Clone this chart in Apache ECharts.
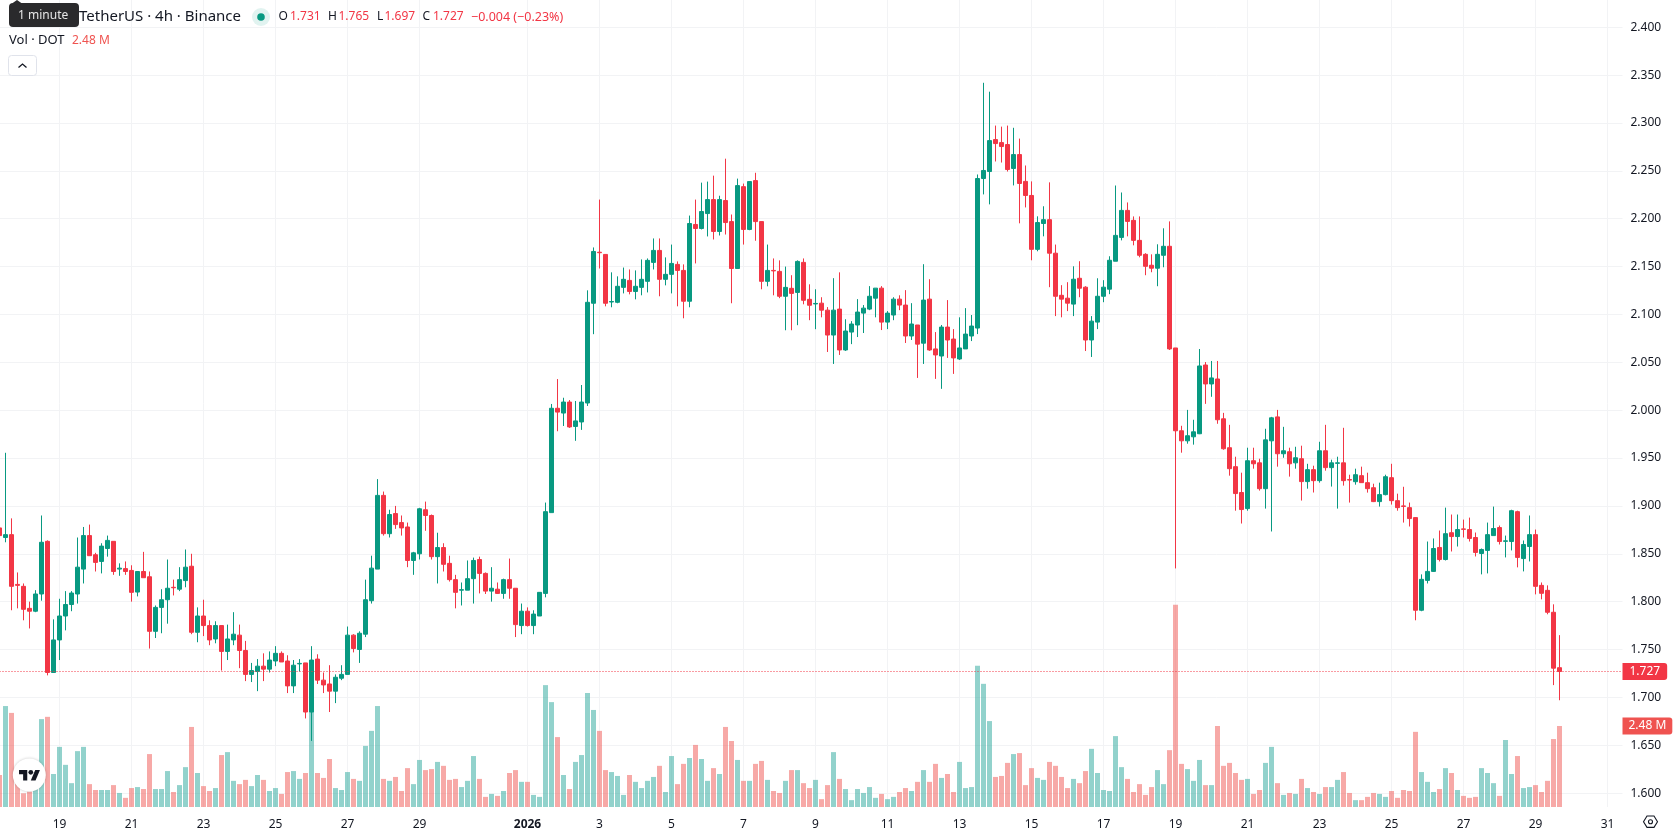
<!DOCTYPE html>
<html>
<head>
<meta charset="utf-8">
<title>DOT / TetherUS 4h</title>
<script src="https://cdn.jsdelivr.net/npm/echarts@6/dist/echarts.min.js"></script>
<style>
  html, body { margin: 0; padding: 0; background: #ffffff; overflow: hidden; }
  #chart { width: 1678px; height: 835px; }
</style>
</head>
<body>
<div id="chart"></div>
<script>
// 4h candles, oldest first, starting 2025-12-17 08:00
const opens = [
1.877,1.867,1.870,1.818,1.816,1.793,1.790,1.808,1.863,1.726,
1.760,1.785,1.797,1.808,1.834,1.869,1.849,1.842,1.8555,1.863,
1.834,1.8345,1.8326,1.810,1.8315,1.826,1.769,1.794,1.802,1.815,
1.813,1.822,1.837,1.768,1.785,1.775,1.761,1.775,1.748,1.760,
1.765,1.749,1.724,1.727,1.7326,1.7295,1.738,1.746,1.738,1.712,
1.735,1.736,1.6847,1.740,1.718,1.714,1.7065,1.720,1.724,1.765,
1.750,1.766,1.801,1.834,1.911,1.871,1.892,1.8826,1.878,1.843,
1.850,1.896,1.890,1.847,1.8565,1.840,1.823,1.812,1.812,1.824,
1.844,1.8295,1.811,1.813,1.8086,1.823,1.814,1.775,1.790,1.775,
1.785,1.8086,1.893,2.002,1.997,2.0085,1.983,1.9877,2.0075,2.1117,
2.165,2.1627,2.113,2.1127,2.1283,2.1356,2.124,2.1283,2.1346,2.1544,
2.1669,2.1367,2.1419,2.1523,2.146,2.1138,2.194,2.1898,2.2054,2.220,
2.1867,2.219,2.197,2.148,2.2335,2.1888,2.2398,2.197,2.1346,2.146,
2.145,2.119,2.1273,2.123,2.1544,2.1158,2.111,2.1118,2.1045,2.0785,
2.1056,2.0629,2.0816,2.089,2.1014,2.1056,2.117,2.1275,2.092,2.0994,
2.116,2.1098,2.0775,2.089,2.070,2.116,2.064,2.0566,2.0868,2.0743,
2.0535,2.064,2.0775,2.0858,2.242,2.2493,2.2827,2.2795,2.2775,2.2525,
2.267,2.239,2.2243,2.168,2.195,2.199,2.164,2.120,2.117,2.1108,
2.1378,2.1285,2.0733,2.092,2.119,2.1264,2.1556,2.1805,2.2087,2.1983,
2.1774,2.1628,2.1514,2.1483,2.1618,2.1712,2.065,1.9785,1.968,1.9722,
1.9754,2.0472,2.0274,2.0326,1.991,1.9608,1.941,1.914,1.8972,1.9472,
1.945,1.918,1.968,1.993,1.9545,1.9566,1.945,1.9493,1.9254,1.9379,
1.9264,1.9576,1.940,1.9445,1.945,1.9275,1.9253,1.9316,1.9243,1.919,
1.9045,1.9118,1.9295,1.9055,1.900,1.8982,1.8878,1.791,1.8222,1.8316,
1.8566,1.844,1.872,1.868,1.876,1.8753,1.867,1.8503,1.8535,1.869,
1.8774,1.863,1.8628,1.894,1.845,1.8576,1.870,1.817,1.8118,1.7889,
1.731];
const closes = [
1.869,1.870,1.816,1.817,1.792,1.790,1.808,1.862,1.726,1.760,
1.785,1.797,1.809,1.836,1.869,1.848,1.841,1.858,1.864,1.8315,
1.835,1.8315,1.8097,1.8315,1.825,1.769,1.794,1.802,1.814,1.8145,
1.823,1.836,1.768,1.785,1.775,1.760,1.775,1.748,1.761,1.766,
1.749,1.724,1.728,1.7326,1.7295,1.739,1.746,1.737,1.712,1.7336,
1.7355,1.6847,1.739,1.718,1.713,1.7065,1.721,1.724,1.765,1.751,
1.767,1.802,1.835,1.911,1.871,1.891,1.8805,1.877,1.843,1.851,
1.897,1.890,1.847,1.8565,1.839,1.823,1.8097,1.8125,1.824,1.843,
1.8295,1.811,1.814,1.8086,1.823,1.814,1.776,1.790,1.775,1.787,
1.8097,1.894,2.002,1.998,2.0085,1.9825,1.9888,2.0085,2.1127,2.1658,
2.1645,2.1117,2.1135,2.1294,2.1367,2.124,2.1294,2.1367,2.1565,2.1669,
2.1367,2.1419,2.1533,2.146,2.1138,2.195,2.1898,2.2075,2.220,2.1867,
2.220,2.196,2.148,2.2346,2.1888,2.2388,2.197,2.1346,2.146,2.1455,
2.119,2.1283,2.122,2.1554,2.1148,2.1096,2.1115,2.1045,2.0785,2.1045,
2.0629,2.0827,2.090,2.1025,2.1066,2.119,2.1275,2.092,2.1014,2.116,
2.1098,2.0775,2.090,2.069,2.115,2.0629,2.0577,2.0868,2.0733,2.0546,
2.065,2.0795,2.0879,2.242,2.2504,2.2816,2.2785,2.2754,2.2514,2.267,
2.2368,2.2243,2.168,2.196,2.199,2.164,2.119,2.116,2.1118,2.1368,
2.1274,2.0733,2.093,2.119,2.1285,2.1566,2.1826,2.2087,2.1972,2.1774,
2.1618,2.1503,2.1483,2.1628,2.1712,2.064,1.9785,1.968,1.9733,1.9774,
2.0462,2.0274,2.0337,1.990,1.9597,1.9389,1.9129,1.8962,1.9472,1.944,
1.918,1.969,1.992,1.9545,1.9576,1.944,1.9503,1.9254,1.9379,1.9264,
1.9576,1.940,1.945,1.945,1.9264,1.927,1.9326,1.9243,1.918,1.9045,
1.9118,1.9305,1.9055,1.8982,1.8995,1.8868,1.791,1.8233,1.8316,1.8555,
1.844,1.871,1.868,1.8753,1.8755,1.866,1.8514,1.8545,1.870,1.8764,
1.8628,1.8635,1.895,1.8462,1.8597,1.870,1.816,1.8087,1.7889,1.7305,
1.727];
const lows = [
1.866,1.862,1.791,1.793,1.7805,1.772,1.789,1.801,1.723,1.726,
1.739,1.770,1.790,1.798,1.819,1.848,1.8315,1.8295,1.847,1.828,
1.827,1.828,1.800,1.8055,1.825,1.751,1.762,1.767,1.777,1.8065,
1.811,1.815,1.766,1.7576,1.764,1.7545,1.7565,1.728,1.739,1.7545,
1.7305,1.717,1.716,1.7065,1.717,1.726,1.7326,1.737,1.7045,1.7045,
1.727,1.678,1.6545,1.714,1.7045,1.6847,1.694,1.718,1.724,1.747,
1.736,1.763,1.798,1.834,1.869,1.867,1.876,1.869,1.836,1.828,
1.844,1.874,1.844,1.819,1.8315,1.821,1.793,1.796,1.812,1.798,
1.8086,1.808,1.800,1.808,1.803,1.803,1.763,1.766,1.774,1.766,
1.785,1.8045,1.893,1.978,1.9835,1.9815,1.968,1.9794,2.0044,2.0794,
2.148,2.1085,2.1075,2.1117,2.122,2.121,2.1158,2.120,2.123,2.147,
2.119,2.1304,2.122,2.1085,2.096,2.1075,2.1533,2.1888,2.1815,2.1783,
2.1825,2.1835,2.1117,2.148,2.173,2.188,2.177,2.1263,2.1294,2.120,
2.117,2.0835,2.0835,2.0888,2.1106,2.094,2.0846,2.097,2.0608,2.0483,
2.0577,2.0619,2.069,2.0764,2.0806,2.1045,2.097,2.0837,2.0847,2.094,
2.1045,2.0702,2.0733,2.0337,2.0483,2.062,2.0327,2.0223,2.0546,2.0379,
2.0525,2.064,2.0722,2.0795,2.2254,2.215,2.2598,2.2587,2.2493,2.2348,
2.1952,2.2118,2.1566,2.166,2.1816,2.1285,2.0983,2.097,2.1035,2.0983,
2.118,2.0618,2.0556,2.0847,2.1128,2.1212,2.1556,2.1774,2.1816,2.1722,
2.1597,2.141,2.1441,2.1295,2.1493,2.0629,1.8347,1.9556,1.965,1.964,
1.975,2.0066,2.014,1.9858,1.9587,1.9316,1.895,1.8816,1.895,1.9389,
1.916,1.8972,1.8733,1.941,1.9503,1.9306,1.9389,1.9056,1.918,1.914,
1.9243,1.9368,1.9202,1.8972,1.9212,1.9035,1.9222,1.924,1.9139,1.904,
1.8993,1.911,1.9014,1.895,1.8826,1.8785,1.7805,1.790,1.819,1.831,
1.842,1.843,1.8524,1.8576,1.867,1.8628,1.8472,1.8285,1.8295,1.869,
1.8597,1.8462,1.8535,1.8358,1.8316,1.842,1.8076,1.8024,1.7868,1.7128,
1.697];
const highs = [
1.880,1.9555,1.887,1.8305,1.819,1.800,1.812,1.890,1.864,1.7815,
1.803,1.811,1.811,1.867,1.878,1.8805,1.851,1.861,1.869,1.863,
1.840,1.842,1.838,1.832,1.852,1.8315,1.796,1.813,1.844,1.823,
1.836,1.8545,1.850,1.794,1.802,1.7805,1.7795,1.775,1.776,1.789,
1.776,1.759,1.736,1.740,1.746,1.748,1.7535,1.748,1.744,1.739,
1.740,1.736,1.7535,1.745,1.726,1.7336,1.724,1.7336,1.774,1.766,
1.769,1.823,1.848,1.928,1.915,1.896,1.900,1.890,1.8826,1.852,
1.898,1.9045,1.891,1.872,1.861,1.848,1.828,1.820,1.843,1.846,
1.847,1.8305,1.836,1.820,1.824,1.845,1.814,1.798,1.794,1.791,
1.810,1.9035,2.0065,2.0325,2.013,2.0106,2.0096,2.0263,2.1252,2.170,
2.220,2.163,2.144,2.1398,2.149,2.147,2.146,2.1575,2.1585,2.1794,
2.1794,2.1596,2.173,2.1554,2.1523,2.2033,2.220,2.2377,2.2388,2.245,
2.224,2.2627,2.2044,2.2419,2.2367,2.239,2.248,2.197,2.173,2.1585,
2.1565,2.150,2.141,2.1565,2.1585,2.1315,2.1263,2.118,2.1077,2.1379,
2.144,2.095,2.093,2.116,2.1098,2.1296,2.1275,2.1296,2.1035,2.118,
2.120,2.1254,2.1118,2.089,2.1525,2.1368,2.0816,2.089,2.115,2.0847,
2.097,2.1066,2.0994,2.2462,2.342,2.3327,2.2973,2.2962,2.2973,2.295,
2.2837,2.2556,2.239,2.2025,2.213,2.238,2.173,2.1306,2.1337,2.1503,
2.1556,2.1295,2.0983,2.1378,2.1358,2.1608,2.2347,2.2274,2.217,2.2024,
2.2024,2.164,2.1628,2.1733,2.190,2.1972,2.065,1.9837,2.0003,1.990,
2.0639,2.0503,2.0514,2.0514,1.9972,1.9847,1.9514,1.9347,1.9608,1.9608,
1.9493,1.9806,1.993,2.0003,1.9826,1.9608,1.9618,1.9629,1.944,1.942,
1.967,1.9847,1.9483,1.9514,1.9816,1.9326,1.9389,1.941,1.9347,1.9232,
1.9243,1.9326,1.944,1.9128,1.920,1.9035,1.888,1.8285,1.8628,1.866,
1.8743,1.8982,1.891,1.891,1.8857,1.8878,1.8722,1.8555,1.8826,1.8993,
1.8795,1.869,1.896,1.895,1.8639,1.890,1.8753,1.820,1.817,1.7972,
1.765];
// volume per candle, millions of DOT
const volumes = [
0.98,3.09,2.88,0.72,0.42,0.47,0.72,2.69,2.76,1.01,
1.84,1.29,0.73,1.71,1.84,0.70,0.52,0.52,0.52,0.67,
0.43,0.28,0.58,0.61,0.55,1.62,0.55,0.55,1.10,0.46,
0.67,1.22,2.45,1.04,0.64,0.49,0.58,1.59,1.68,0.80,
0.70,0.83,0.64,0.98,0.83,0.49,0.58,0.40,1.07,1.10,
0.86,1.04,2.97,1.04,0.89,1.47,0.58,0.52,1.07,0.86,
0.80,1.87,2.33,3.09,0.86,0.80,0.92,0.49,1.19,0.70,
1.44,1.13,1.16,1.38,1.26,0.83,0.86,0.61,0.80,1.56,
0.86,0.31,0.40,0.34,0.49,1.04,1.13,0.77,0.77,0.37,
0.31,3.73,3.21,2.14,0.98,0.55,1.38,1.59,3.49,2.97,
2.33,1.13,1.07,0.95,0.37,0.98,0.77,0.58,0.80,0.92,
1.26,0.46,1.56,0.70,1.32,1.50,1.90,1.47,0.80,1.19,
1.01,2.45,2.02,1.44,0.80,0.80,1.32,1.41,0.83,0.49,
0.43,0.80,1.13,1.13,0.73,0.58,0.83,0.24,0.67,1.68,
0.86,0.55,0.21,0.55,0.43,0.61,0.28,0.40,0.24,0.31,
0.46,0.58,0.49,0.77,1.13,0.77,1.32,0.89,1.01,0.46,
1.38,0.58,0.61,4.32,3.77,2.63,0.92,0.95,1.35,1.62,
1.65,0.67,1.19,0.89,0.83,1.38,1.26,0.92,0.58,0.86,
0.73,1.10,1.78,1.04,0.52,0.49,2.17,1.22,0.86,0.46,
0.70,0.37,0.61,1.13,0.70,1.74,6.19,1.32,1.16,0.80,
1.44,0.67,0.67,2.48,1.26,1.35,1.04,0.83,0.86,0.40,
0.52,1.35,1.84,0.73,0.37,0.43,0.40,0.86,0.58,0.46,
0.40,0.61,0.61,0.83,1.07,0.43,0.21,0.21,0.31,0.43,
0.40,0.31,0.49,0.28,0.52,0.49,2.30,1.07,0.77,0.46,
0.55,1.19,1.04,0.52,0.34,0.28,0.31,1.19,1.04,0.73,
0.34,2.05,1.01,1.56,0.58,0.61,0.67,0.46,0.80,2.08,
2.48];

const lastPrice = 1.727;
const lastVolume = 2.48;

const tickDates = [
'2025-12-19','2025-12-21','2025-12-23','2025-12-25','2025-12-27','2025-12-29',
'2026-01-01','2026-01-03','2026-01-05','2026-01-07','2026-01-09','2026-01-11',
'2026-01-13','2026-01-15','2026-01-17','2026-01-19','2026-01-21','2026-01-23',
'2026-01-25','2026-01-27','2026-01-29','2026-01-31'];
const tickLabels = ['19','21','23','25','27','29','2026','3','5','7','9','11',
'13','15','17','19','21','23','25','27','29','31'];

const FONT = '"Noto Sans", sans-serif';
const UP = '#089981', DOWN = '#F23645';
const VOL_UP = 'rgba(38,166,154,0.5)', VOL_DOWN = 'rgba(239,83,80,0.5)';
const GRID_LINE = '#F2F3F5', INK = '#131722';

// One band per 4h bar, running on past the last candle to the right edge of the pane
const BAND_COUNT = 271;
const categories = [];
const startMs = Date.UTC(2025, 11, 17, 8);
for (let i = 0; i < BAND_COUNT; i++) {
  categories.push(new Date(startMs + i * 4 * 3600e3).toISOString().slice(0, 16).replace('T', ' '));
}
const labelFor = {};
tickDates.forEach((d, k) => { labelFor[d + ' 00:00'] = tickLabels[k]; });
const isTick = (index, value) => labelFor[value] !== undefined;

const candles = opens.map((o, i) => [o, closes[i], lows[i], highs[i]]);
const volumeBars = volumes.map((v, i) => ({
  value: v,
  itemStyle: { color: closes[i] >= opens[i] ? VOL_UP : VOL_DOWN }
}));

const paneLeft = -3.5, paneWidth = 1626;

function text(x, y, str, fill, size, extra) {
  return Object.assign({
    type: 'text', z: 100, x: x, y: y, silent: true,
    style: { text: str, fill: fill, font: size + 'px ' + FONT, textAlign: 'left', textVerticalAlign: 'middle' }
  }, extra || {});
}

// Logo glyph outline, scaled from its 36-unit-wide drawing
const logoScale = 0.59, logoX = 19, logoY = 770;
const logoPoints = pts => pts.map(p => [logoX + p[0] * logoScale, logoY + p[1] * logoScale]);

// Symbol header, OHLC readout, volume readout, collapse button, logo, settings icon
const overlay = [
  { type: 'polygon', z: 101, shape: { points: [[12, 3.5], [17, 0], [22, 3.5]] }, style: { fill: '#2A2A2C' } },
  { type: 'rect', z: 101, shape: { x: 9, y: 3, width: 70, height: 24, r: 4 }, style: { fill: '#2A2A2C' } },
  text(18, 15.5, '1 minute', '#E6E6E6', 12, { z: 102 }),
  text(79, 17, 'TetherUS · 4h · Binance', INK, 15),
  { type: 'circle', z: 100, shape: { cx: 261, cy: 17, r: 9 }, style: { fill: 'rgba(8,153,129,0.12)' } },
  { type: 'circle', z: 101, shape: { cx: 261, cy: 17, r: 3.8 }, style: { fill: UP } },
  text(278.5, 17, 'O', INK, 12), text(290, 17, '1.731', DOWN, 12),
  text(328, 17, 'H', INK, 12), text(338.5, 17, '1.765', DOWN, 12),
  text(377, 17, 'L', INK, 12), text(384.5, 17, '1.697', DOWN, 12),
  text(422.5, 17, 'C', INK, 12), text(433, 17, '1.727', DOWN, 12),
  text(471, 17, '−0.004 (−0.23%)', DOWN, 12.5),
  text(9, 40.5, 'Vol · DOT', INK, 13),
  text(72, 40.5, '2.48 M', '#EF5350', 12),
  { type: 'rect', z: 100, shape: { x: 8.5, y: 55.5, width: 28, height: 20, r: 3 },
    style: { fill: '#fff', stroke: '#E0E3EB', lineWidth: 1 } },
  { type: 'polyline', z: 101, shape: { points: [[18.5, 67.5], [22.5, 64], [26.5, 67.5]] },
    style: { fill: 'none', stroke: INK, lineWidth: 1.3 } },
  { type: 'circle', z: 100, shape: { cx: 29.3, cy: 775, r: 16.5 },
    style: { fill: '#fff', shadowColor: 'rgba(0,0,0,0.22)', shadowBlur: 3 } },
  { type: 'polygon', z: 101, shape: { points: logoPoints([[14, 18], [7, 18], [7, 7], [0, 7], [0, 0], [14, 0]]) }, style: { fill: '#131722' } },
  { type: 'polygon', z: 101, shape: { points: logoPoints([[28, 18], [20, 18], [27.5, 0], [35.5, 0]]) }, style: { fill: '#131722' } },
  { type: 'circle', z: 101, shape: { cx: logoX + 20 * logoScale, cy: logoY + 4 * logoScale, r: 4 * logoScale }, style: { fill: '#131722' } },
  { type: 'polygon', z: 100, shape: { points: [[1643.5, 821.7], [1647, 816], [1654, 816], [1657.5, 821.7], [1654, 827.4], [1647, 827.4]] },
    style: { fill: 'none', stroke: INK, lineWidth: 1.1 } },
  { type: 'circle', z: 100, shape: { cx: 1650.5, cy: 821.7, r: 2 }, style: { fill: 'none', stroke: INK, lineWidth: 1.1 } }
];

const chart = echarts.init(document.getElementById('chart'), null, { renderer: 'canvas' });
chart.setOption({
  animation: false,
  backgroundColor: '#ffffff',
  textStyle: { fontFamily: FONT },
  grid: [
    // Price pane: the scale runs past the window so only 1.600 to 2.400 carry labels
    { left: paneLeft, width: paneWidth, top: -20.6, height: 861.57, outerBoundsMode: 'none' },
    // Volume pane shares the date axis
    { left: paneLeft, width: paneWidth, top: 0, height: 807, outerBoundsMode: 'none' }
  ],
  xAxis: [
    { type: 'category', gridIndex: 0, data: categories, show: false },
    {
      type: 'category', gridIndex: 1, data: categories,
      axisLine: { show: false }, axisTick: { show: false },
      axisLabel: {
        interval: isTick, margin: 12, fontSize: 12, color: INK, fontFamily: FONT,
        hideOverlap: false, showMinLabel: true, showMaxLabel: true,
        formatter: v => {
          const t = labelFor[v];
          return t === '2026' ? '{year|2026}' : t;
        },
        rich: { year: { fontWeight: 'bold', fontSize: 12, color: INK, fontFamily: FONT } }
      },
      splitLine: { show: true, interval: isTick, alignWithLabel: true, lineStyle: { color: GRID_LINE, width: 1 } }
    }
  ],
  yAxis: [
    {
      type: 'value', gridIndex: 0, position: 'right', min: 1.55, max: 2.45, interval: 0.05,
      axisLine: { show: false }, axisTick: { show: false },
      axisLabel: {
        margin: 8, fontSize: 12, color: INK, fontFamily: FONT,
        formatter: v => (v < 1.59 || v > 2.41) ? '' : v.toFixed(3)
      },
      splitLine: { show: true, lineStyle: { color: GRID_LINE, width: 1 } }
    },
    { type: 'value', gridIndex: 1, min: 0, max: 24.7, show: false }
  ],
  series: [
    {
      type: 'bar', name: 'Vol', xAxisIndex: 1, yAxisIndex: 1, barWidth: 5, z: 2,
      data: volumeBars,
      markLine: {
        silent: true, symbol: 'none', animation: false, precision: 2,
        lineStyle: { color: 'transparent', width: 1 },
        data: [{ yAxis: lastVolume }],
        label: {
          show: true, position: 'end', distance: 0,
          formatter: p => p.value + ' M', color: '#fff', fontSize: 12, fontFamily: FONT,
          backgroundColor: '#EF5350', padding: [3, 6, 2, 6], borderRadius: [0, 3, 3, 0]
        }
      }
    },
    {
      type: 'candlestick', name: 'DOTUSDT', xAxisIndex: 0, yAxisIndex: 0, barWidth: 4, z: 3,
      data: candles,
      itemStyle: { color: UP, color0: DOWN, borderColor: UP, borderColor0: DOWN, borderWidth: 1 },
      markLine: {
        silent: true, symbol: 'none', animation: false, precision: 3,
        lineStyle: { color: DOWN, type: [1, 2], width: 1 },
        data: [{ yAxis: lastPrice }],
        label: {
          show: true, position: 'end', distance: 0,
          formatter: p => p.value.toFixed(3), color: '#fff', fontSize: 12, fontFamily: FONT,
          backgroundColor: DOWN, padding: [3, 7, 2, 7], borderRadius: [0, 3, 3, 0]
        }
      }
    }
  ],
  graphic: { elements: overlay }
});
</script>
</body>
</html>
